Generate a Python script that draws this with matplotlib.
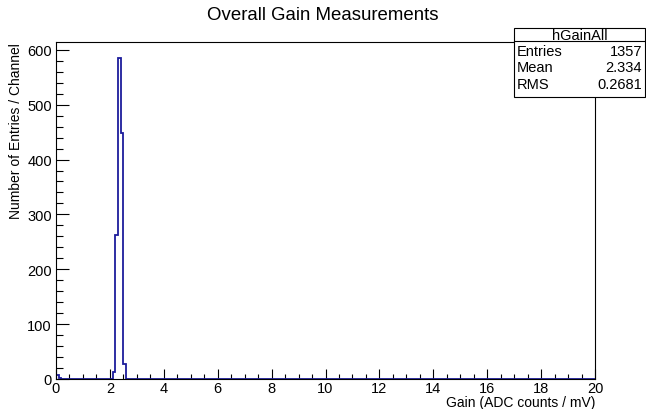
import numpy as np
import matplotlib
matplotlib.use("Agg")
import matplotlib.pyplot as plt
from matplotlib.ticker import MultipleLocator
import matplotlib.patches as patches

plt.rcParams["font.family"] = ["Liberation Sans", "DejaVu Sans"]

# histogram hGainAll: 200 bins of 0.1 from 0 to 20, non-empty bins only
bin_low = [0.0, 0.1, 2.1, 2.2, 2.3, 2.4, 2.5]
bin_count = [8, 2, 12, 262, 585, 448, 28]

stats_labels = ["Entries", "Mean", "RMS"]
stats_values = ["1357", "2.334", "0.2681"]

edges = np.linspace(0, 20, 201)
counts = np.zeros(200)
for lo, c in zip(bin_low, bin_count):
    counts[int(round(lo * 10))] = c

W, H = 646, 410
fig = plt.figure(figsize=(W / 100, H / 100), dpi=100)
ax = fig.add_axes([56 / W, 1 - 380 / H, 539 / W, 337 / H])

ax.stairs(counts, edges, color="#1c1c9c", lw=1.3, zorder=2)
ax.set_xlim(0, 20)
ax.set_ylim(0, max(bin_count) * 1.05)

ax.xaxis.set_major_locator(MultipleLocator(2))
ax.xaxis.set_minor_locator(MultipleLocator(0.5))
ax.yaxis.set_major_locator(MultipleLocator(100))
ax.yaxis.set_minor_locator(MultipleLocator(20))
ax.tick_params(which="both", direction="in", top=False, right=False, labelsize=10.5, width=0.8, zorder=3)
ax.tick_params(axis="x", which="major", length=7, pad=1.5)
ax.tick_params(axis="x", which="minor", length=3.5)
ax.tick_params(axis="y", which="major", length=9.5, pad=3)
ax.tick_params(axis="y", which="minor", length=5)
for s in ax.spines.values():
    s.set_linewidth(0.8)

ax.set_xlabel("Gain (ADC counts / mV)", fontsize=10, loc="right", labelpad=0)
ax.set_ylabel("Number of Entries / Channel", fontsize=10, loc="top", labelpad=3)

fig.text(323 / W, 1 - 16 / H, "Overall Gain Measurements", ha="center", va="center", fontsize=13.4)

# stats box
tf = fig.transFigure
x0, x1 = 514 / W, 645 / W
y_top, y_bot = 1 - 29 / H, 1 - 98 / H
y_head = 1 - 42 / H
fig.patches.append(patches.Rectangle((x0, y_bot), x1 - x0, y_top - y_bot, transform=tf,
                                     facecolor="white", edgecolor="black", lw=0.8, zorder=5))
fig.lines.append(plt.Line2D([x0, x1], [y_head, y_head], transform=tf, color="black", lw=0.8, zorder=6))
fig.text((x0 + x1) / 2, 1 - 35.5 / H, "hGainAll", ha="center", va="center", fontsize=10.5, zorder=7)
for i, (lab, val) in enumerate(zip(stats_labels, stats_values)):
    yy = 1 - (52 + i * 16.5) / H
    fig.text(517 / W, yy, lab, ha="left", va="center", fontsize=10.5, zorder=7)
    fig.text(642 / W, yy, val, ha="right", va="center", fontsize=10.5, zorder=7)

fig.savefig("out.png", dpi=100)
